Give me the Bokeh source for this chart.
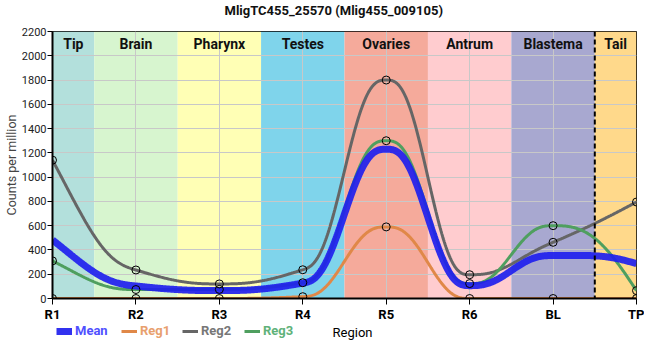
import numpy as np
from bokeh.plotting import figure
from bokeh.layouts import column
from bokeh.models import (ColumnDataSource, FixedTicker, Legend, LegendItem,
                          Span, Range1d, Label)
from bokeh.core.properties import value
from bokeh.embed import file_html
from bokeh.resources import INLINE

# ---------------- data ----------------
categories = ["R1", "R2", "R3", "R4", "R5", "R6", "BL", "TP"]
regions = ["Tip", "Brain", "Pharynx", "Testes", "Ovaries", "Antrum", "Blastema", "Tail"]
region_colors = ["#b3e0dc", "#d7f5cf", "#ffffb5", "#7fd4eb",
                 "#f5aa9b", "#ffcccf", "#a8a8d0", "#ffd98b"]
mean_vals = [483, 103, 65, 127, 1230, 106, 354, 287]
reg1_vals = [0, 0, 0, 15, 590, 0, 0, 0]
reg2_vals = [1140, 235, 120, 237, 1800, 196, 463, 795]
reg3_vals = [310, 74, 75, 130, 1300, 123, 600, 65]
y_ticks = list(range(0, 2201, 200))
title_text = "MligTC455_25570 (Mlig455_009105)"
x_title = "Region"
y_title = "Counts per million"

FONT = "Roboto"
W = 644
FRAME_LEFT = 51
n = len(categories)
xk = np.arange(n, dtype=float)
xs = np.linspace(0, n - 1, 700)


def smooth_curve(xk, yk, xq):
    """Shape-preserving (PCHIP slopes) quintic Hermite, used only to draw
    the smooth line through the data points."""
    yk = np.asarray(yk, float)
    h = np.diff(xk)
    d = np.diff(yk) / h
    m = np.zeros(len(xk))
    for k in range(1, len(xk) - 1):
        if d[k - 1] * d[k] > 0:
            w1 = 2 * h[k] + h[k - 1]
            w2 = h[k] + 2 * h[k - 1]
            m[k] = (w1 + w2) / (w1 / d[k - 1] + w2 / d[k])

    def end(h0, h1, d0, d1):
        mm = ((2 * h0 + h1) * d0 - h0 * d1) / (h0 + h1)
        if np.sign(mm) != np.sign(d0):
            mm = 0.0
        elif np.sign(d0) != np.sign(d1) and abs(mm) > abs(3 * d0):
            mm = 3 * d0
        return mm

    m[0] = end(h[0], h[1], d[0], d[1])
    m[-1] = end(h[-1], h[-2], d[-1], d[-2])
    idx = np.clip(np.searchsorted(xk, xq) - 1, 0, len(xk) - 2)
    t = (xq - xk[idx]) / h[idx]
    t3, t4, t5 = t**3, t**4, t**5
    b_p0 = 1 - 10 * t3 + 15 * t4 - 6 * t5
    b_v0 = t - 6 * t3 + 8 * t4 - 3 * t5
    b_p1 = 10 * t3 - 15 * t4 + 6 * t5
    b_v1 = -4 * t3 + 7 * t4 - 3 * t5
    return (b_p0 * yk[idx] + b_v0 * h[idx] * m[idx]
            + b_p1 * yk[idx + 1] + b_v1 * h[idx] * m[idx + 1])


def strip(height):
    s = figure(width=W, height=height, x_range=Range1d(0, 1), y_range=Range1d(0, 1),
               output_backend="svg", toolbar_location=None,
               x_axis_type=None, y_axis_type=None, min_border=0)
    s.outline_line_color = None
    s.background_fill_color = "white"
    s.border_fill_color = "white"
    s.grid.visible = False
    return s


# ---------------- title strip ----------------
t = strip(20)
t.add_layout(Label(x=172, y=10, x_units="screen", y_units="screen",
                   text=title_text, text_align="left", text_baseline="middle",
                   text_font=FONT, text_font_size="13px", text_font_style="bold",
                   text_color="#111111"))

# ---------------- main plot ----------------
p = figure(width=W, height=304, x_range=Range1d(0, n - 1),
           y_range=Range1d(y_ticks[0], y_ticks[-1]),
           output_backend="svg", toolbar_location=None,
           min_border_left=FRAME_LEFT, min_border_right=8, min_border_top=11,
           min_border_bottom=24)
p.background_fill_color = "white"
p.border_fill_color = "white"
p.outline_line_color = "black"
p.outline_line_width = 1

lefts = [max(i - 0.5, 0) for i in range(n)]
rights = [min(i + 0.5, n - 1) for i in range(n)]
band_src = ColumnDataSource(dict(left=lefts, right=rights, color=region_colors,
                                 name=regions,
                                 cx=[(a + b) / 2 for a, b in zip(lefts, rights)]))
p.quad(left="left", right="right", bottom=y_ticks[0], top=y_ticks[-1],
       fill_color="color", line_color=None, source=band_src, level="image")

p.xaxis.ticker = FixedTicker(ticks=list(range(n)))
p.xaxis.major_label_overrides = {i: c for i, c in enumerate(categories)}
p.xaxis.major_label_text_font = FONT
p.xaxis.major_label_text_font_style = "bold"
p.xaxis.major_label_text_font_size = "13px"
p.xaxis.major_label_text_color = "black"
p.xaxis.major_label_standoff = 2
p.xaxis.major_tick_out = 6

p.yaxis.ticker = FixedTicker(ticks=y_ticks)
p.yaxis.major_label_text_font = FONT
p.yaxis.major_label_text_font_size = "11px"
p.yaxis.major_label_text_color = "#222222"
p.yaxis.major_label_standoff = 1
p.yaxis.major_tick_out = 5
p.yaxis.axis_label = y_title
p.yaxis.axis_label_text_font = FONT
p.yaxis.axis_label_text_font_style = "normal"
p.yaxis.axis_label_text_font_size = "12.5px"
p.yaxis.axis_label_standoff = 0

for ax in (p.xaxis, p.yaxis):
    ax.axis_line_color = "black"
    ax.axis_line_width = 2
    ax.major_tick_line_color = "black"
    ax.major_tick_in = 0
    ax.minor_tick_line_color = None

p.grid.grid_line_color = "#c8c8c8"
p.grid.grid_line_width = 1

series = [
    ("Reg2", reg2_vals, "#666666", 3, 1.0, "#777777"),
    ("Reg3", reg3_vals, "#4f9f5f", 3, 1.0, "#5fb27a"),
    ("Reg1", reg1_vals, "#e08848", 3, 1.0, "#e8a06e"),
]
mean_style = ("Mean", mean_vals, "#2020ee", 7, 0.92, "#5050ff")
for name, vals, col, lw, a, _ in series + [mean_style]:
    p.line(xs, smooth_curve(xk, vals, xs), line_color=col, line_width=lw, line_alpha=a)
for name, vals, col, lw, a, _ in series:
    p.scatter(xk, vals, size=8, fill_color=None, line_color="black", line_width=1)

p.text(x="cx", y=y_ticks[-1], text="name", source=band_src,
       text_font=value(FONT), text_font_style="bold",
       text_font_size="14px", text_color="#111111",
       text_align="center", text_baseline="top", y_offset=4)

p.add_layout(Span(location=n - 1.5, dimension="height", line_color="black",
                  line_width=2, line_dash="5 3"))

# ---------------- legend strip ----------------
q = strip(20)
leg_x = {"Mean": 55, "Reg1": 120, "Reg2": 181, "Reg3": 243}
for name, vals, col, lw, a, tcol in [mean_style] + sorted(series, key=lambda s: s[0]):
    proxy = q.line(x=[np.nan], y=[np.nan], line_color=col, line_width=lw, line_alpha=a)
    lg = Legend(items=[LegendItem(label=name, renderers=[proxy])],
                location=(leg_x[name] - FRAME_LEFT, 6), orientation="horizontal",
                label_text_color=tcol, label_text_font=FONT,
                label_text_font_style="bold", label_text_font_size="13px",
                background_fill_alpha=0, border_line_color=None,
                padding=0, margin=0, spacing=0, label_standoff=3,
                glyph_width=16, glyph_height=14, label_height=14)
    q.add_layout(lg, "center")

q.add_layout(Label(x=351 - FRAME_LEFT, y=12, x_units="screen", y_units="screen",
                   text=x_title, text_align="center", text_baseline="middle",
                   text_font=FONT, text_font_size="13px", text_color="black"))

layout = column(t, p, q, spacing=0)
open("out.html", "w").write(file_html(layout, INLINE))
